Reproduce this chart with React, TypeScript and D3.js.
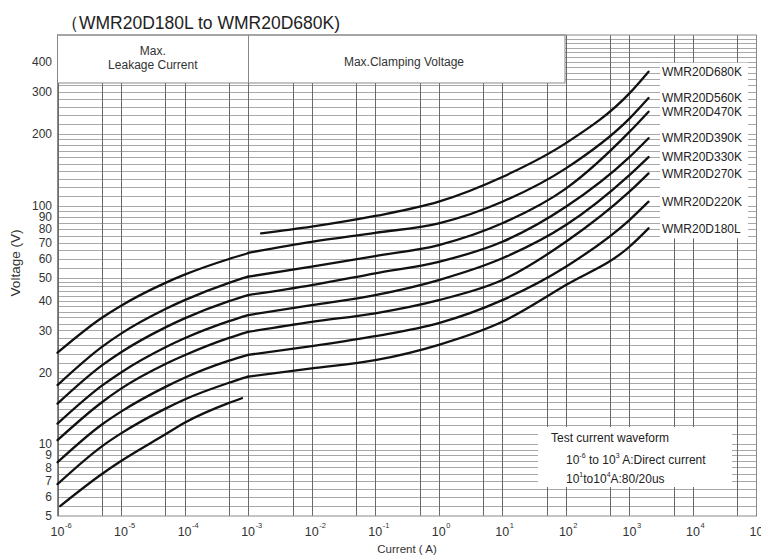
import React from 'react';
import * as d3 from 'd3';

const W = 761;
const H = 559;

const seriesNames = ['WMR20D180L', 'WMR20D220K', 'WMR20D270K', 'WMR20D330K', 'WMR20D390K', 'WMR20D470K', 'WMR20D560K', 'WMR20D680K'];

// Leakage-current region (A)
const leakCurrents = [1e-6, 5e-6, 1e-5, 5e-5, 1e-4, 5e-4, 1e-3];
const leakCurrentsShort = [1.1e-6, 5e-6, 1e-5, 5e-5, 1e-4, 5e-4, 8e-4];
const leak180L = [5.5, 7.5, 8.5, 11.0, 12.3, 14.9, 15.6];
const leak220K = [6.8, 9.8, 11.1, 14.1, 15.4, 18.1, 19.2];
const leak270K = [8.4, 12.1, 13.7, 17.4, 19.0, 22.4, 23.7];
const leak330K = [10.4, 15.0, 17.1, 21.7, 23.6, 27.9, 29.6];
const leak390K = [12.2, 17.6, 20.0, 25.5, 27.8, 32.8, 34.8];
const leak470K = [14.8, 21.4, 24.3, 30.9, 33.7, 39.8, 42.2];
const leak560K = [17.7, 25.6, 29.1, 36.9, 40.2, 47.5, 50.4];
const leak680K = [24.2, 33.9, 38.1, 47.5, 51.4, 59.8, 63.2];

// Clamping-voltage region (A)
const clampCurrents = [1e-3, 1e-2, 1e-1, 1, 10, 100, 1000, 2000];
const clampCurrents680 = [1.6e-3, 1e-2, 1e-1, 1, 10, 100, 1000, 2000];
const clamp180L = [19.2, 20.8, 22.5, 26.1, 32.6, 46.5, 67.3, 80.4];
const clamp220K = [23.7, 25.8, 28.4, 32.2, 40.2, 55.5, 87.1, 104];
const clamp270K = [29.6, 32.6, 35.4, 40.2, 48.8, 70.6, 114.5, 136.7];
const clamp330K = [34.8, 38.3, 42.2, 48.8, 60.2, 83.0, 134.5, 160];
const clamp390K = [42.2, 46.5, 52.1, 58.2, 70.6, 99.0, 160, 192];
const clamp470K = [50.4, 55.5, 61.5, 68.4, 84.4, 118, 204, 248];
const clamp560K = [63.5, 70.6, 77.0, 84.4, 104, 143.5, 232, 283];
const clamp680K = [76.6, 81.7, 90.6, 104, 132, 183, 296, 365];

const yTickValues = [5, 6, 7, 8, 9, 10, 20, 30, 40, 50, 60, 70, 80, 90, 100, 200, 300, 400];
const xTickExponents = [-6, -5, -4, -3, -2, -1, 0, 1, 2, 3, 4, 5];

const leakSeries = [
  { x: leakCurrentsShort, v: leak180L },
  { x: leakCurrents, v: leak220K },
  { x: leakCurrents, v: leak270K },
  { x: leakCurrents, v: leak330K },
  { x: leakCurrents, v: leak390K },
  { x: leakCurrents, v: leak470K },
  { x: leakCurrents, v: leak560K },
  { x: leakCurrents, v: leak680K },
];
const clampSeries = [
  { x: clampCurrents, v: clamp180L },
  { x: clampCurrents, v: clamp220K },
  { x: clampCurrents, v: clamp270K },
  { x: clampCurrents, v: clamp330K },
  { x: clampCurrents, v: clamp390K },
  { x: clampCurrents, v: clamp470K },
  { x: clampCurrents, v: clamp560K },
  { x: clampCurrents680, v: clamp680K },
];

const FONT = "'Liberation Sans', Arial, Helvetica, sans-serif";

export default function App() {
  const left = 57.5, right = 756.5, top = 35, bottom = 516;
  const headerBottom = 83;
  const headerRight = 565;

  const x = d3.scaleLog().domain([1e-6, 1e5]).range([left, right]);
  const y = d3.scaleLog().domain([5, 520]).range([bottom, top]);

  const gridV = [
    ...d3.range(5.5, 10, 0.5),
    ...d3.range(10, 20, 1),
    ...d3.range(20, 50, 2),
    ...d3.range(50, 100, 5),
    ...d3.range(100, 200, 10),
    ...d3.range(200, 520, 20),
  ];
  const gridI: number[] = [];
  for (let e = -6; e <= 4; e++) {
    gridI.push(Math.pow(10, e));
    gridI.push(5 * Math.pow(10, e));
  }

  const line = d3
    .line<[number, number]>()
    .x((d) => x(d[0]))
    .y((d) => y(d[1]))
    .curve(d3.curveMonotoneX);

  const pts = (s: { x: number[]; v: number[] }) => s.x.map((c, i) => [c, s.v[i]] as [number, number]);

  const labelYs = clampSeries.map((s) => y(s.v[s.v.length - 1]));
  const labelBoxTop = Math.min(...labelYs) - 9;
  const labelBoxBottom = Math.max(...labelYs) + 10;

  const x1e3 = x(1e-3);

  return (
    <div style={{ position: 'absolute', left: 0, top: 0 }}>
      <svg width={W} height={H} style={{ display: 'block', background: '#fff' }} fontFamily={FONT}>
        <rect x={0} y={0} width={W} height={H} fill="#fff" />
        {/* horizontal grid */}
        {gridV.map((v, i) => {
          const yy = Math.round(y(v)) + 0.5;
          const x0 = yy < headerBottom ? headerRight : left;
          return <line key={'h' + i} x1={x0} x2={right} y1={yy} y2={yy} stroke="#a8a8a8" strokeWidth={1} />;
        })}
        {/* vertical grid */}
        {gridI.map((c, i) => {
          const xx = Math.round(x(c)) + 0.5;
          const y0 = xx < headerRight ? headerBottom : top;
          return <line key={'v' + i} x1={xx} x2={xx} y1={y0} y2={bottom} stroke="#6a6a6a" strokeWidth={1} />;
        })}
        {/* header boxes */}
        <rect x={left} y={top} width={headerRight - left} height={headerBottom - top} fill="#fff" stroke="#888" strokeWidth={1} />
        <line x1={Math.round(x1e3) + 0.5} x2={Math.round(x1e3) + 0.5} y1={top} y2={headerBottom} stroke="#888" />
        <text x={(left + x1e3) / 2} y={55} textAnchor="middle" fontSize={12} fill="#333">Max.</text>
        <text x={(left + x1e3) / 2} y={69} textAnchor="middle" fontSize={12} fill="#333">Leakage Current</text>
        <text x={404} y={66} textAnchor="middle" fontSize={12} fill="#333">Max.Clamping Voltage</text>
        {/* plot border */}
        <rect x={left} y={top} width={right - left} height={bottom - top} fill="none" stroke="#888" strokeWidth={1} />

        {/* label background */}
        <rect x={660} y={labelBoxTop} width={88} height={labelBoxBottom - labelBoxTop} fill="#fff" />
        {/* test box */}
        <rect x={538} y={427} width={194} height={60} fill="#fff" />
        <text x={551} y={442} fontSize={12} fill="#222">Test current waveform</text>
        <text x={566} y={464} fontSize={12} fill="#222">
          10<tspan fontSize={7} dy={-6}>-6</tspan>
          <tspan dy={6}> to 10</tspan>
          <tspan fontSize={7} dy={-6}>3</tspan>
          <tspan dy={6}> A:Direct current</tspan>
        </text>
        <text x={566} y={483} fontSize={12} fill="#222">
          10<tspan fontSize={7} dy={-6}>1</tspan>
          <tspan dy={6}>to10</tspan>
          <tspan fontSize={7} dy={-6}>4</tspan>
          <tspan dy={6}>A:80/20us</tspan>
        </text>

        {/* curves */}
        {leakSeries.map((s, i) => (
          <path key={'l' + i} d={line(pts(s)) || ''} fill="none" stroke="#111" strokeWidth={2.3} strokeLinecap="round" />
        ))}
        {clampSeries.map((s, i) => (
          <path key={'c' + i} d={line(pts(s)) || ''} fill="none" stroke="#111" strokeWidth={2.3} strokeLinecap="round" />
        ))}

        {/* series labels */}
        {seriesNames.map((n, i) => (
          <text key={'n' + i} x={662} y={labelYs[i]} dy="0.35em" fontSize={12} fill="#222">
            {n}
          </text>
        ))}

        {/* y ticks */}
        {yTickValues.map((v) => (
          <text key={'yt' + v} x={52} y={y(v)} dy="0.35em" textAnchor="end" fontSize={12} fill="#333">
            {v}
          </text>
        ))}
        {/* x ticks */}
        {xTickExponents.map((e) => {
          const xx = x(Math.pow(10, e));
          return (
            <g key={'xt' + e}>
              <text x={xx} y={536} textAnchor="middle" fontSize={12.5} fill="#333">10</text>
              <text x={xx + 7.5} y={528} fontSize={7.5} fill="#333">{e}</text>
            </g>
          );
        })}

        {/* axis titles */}
        <text x={407} y={553} textAnchor="middle" fontSize={11.5} fill="#333">Current ( A)</text>
        <text transform="translate(20,263) rotate(-90)" textAnchor="middle" fontSize={13.5} fill="#333">Voltage  (V)</text>

        {/* title */}
        <text x={61} y={29} fontSize={17.5} fill="#222">（WMR20D180L to WMR20D680K)</text>
      </svg>
    </div>
  );
}
